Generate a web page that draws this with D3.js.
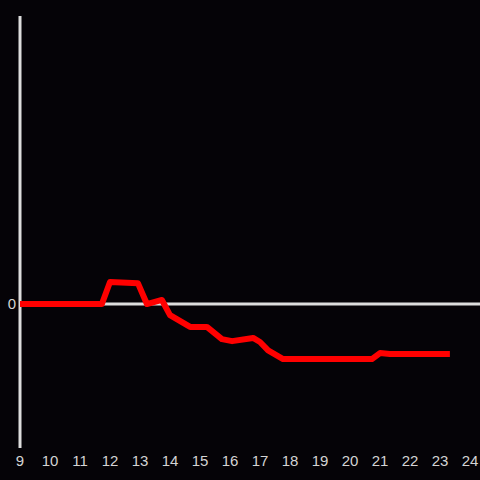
<!DOCTYPE html>
<html lang="en">
<head>
    <meta charset="UTF-8">
    <title>Line</title>
    <script src="https://d3js.org/d3.v7.min.js"></script>
    <style>
        html, body { margin: 0; padding: 0; background: #050307; }
        svg { display: block; }
        .tick-label { fill: #d4d4d4; font: 15px "Liberation Sans", Arial, sans-serif; }
    </style>
</head>
<body>
    <svg width="480" height="480"></svg>
    <script>
        const hours = [9, 11.73, 12, 12.93, 13.23, 13.73, 14, 14.67, 15.23, 15.73, 16.07, 16.77, 17, 17.27, 17.77, 20.73, 21, 21.33, 23.33];
        const values = [0, 0, 7.6, 7.2, 0, 1.4, -3.8, -7.9, -7.9, -12.1, -12.8, -11.7, -13.1, -16, -19, -19, -16.9, -17.2, -17.2];
        const xTicks = d3.range(9, 25);
        const yTicks = [0];

        const width = 480, height = 480;
        const svg = d3.select("svg");

        svg.append("rect").attr("width", width).attr("height", height).attr("fill", "#050307");

        const x = d3.scaleLinear().domain([9, 24]).range([20, 470]);
        const y = d3.scaleLinear().domain([-50, 99]).range([449, 17]);

        // zero line
        svg.append("line")
            .attr("x1", x(9)).attr("x2", width)
            .attr("y1", y(0)).attr("y2", y(0))
            .attr("stroke", "#dddddd").attr("stroke-width", 3);

        // y axis line
        svg.append("line")
            .attr("x1", x(9)).attr("x2", x(9))
            .attr("y1", 16).attr("y2", 448)
            .attr("stroke", "#dddddd").attr("stroke-width", 3);

        svg.selectAll(".xt").data(xTicks).enter().append("text")
            .attr("class", "tick-label")
            .attr("x", d => x(d))
            .attr("y", 466)
            .attr("text-anchor", "middle")
            .text(d => d);

        svg.selectAll(".yt").data(yTicks).enter().append("text")
            .attr("class", "tick-label")
            .attr("x", 16)
            .attr("y", d => y(d) + 5)
            .attr("text-anchor", "end")
            .text(d => d);

        const data = hours.map((h, i) => ({ h, v: values[i] }));
        const line = d3.line().x(d => x(d.h)).y(d => y(d.v));

        svg.append("path")
            .datum(data)
            .attr("d", line)
            .attr("fill", "none")
            .attr("stroke", "#ff0000")
            .attr("stroke-width", 6)
            .attr("stroke-linejoin", "round");
    </script>
</body>
</html>
